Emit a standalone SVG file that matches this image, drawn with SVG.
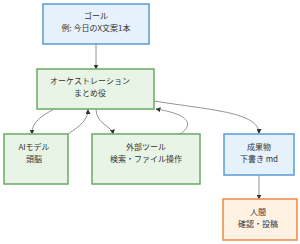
<svg xmlns="http://www.w3.org/2000/svg" width="300" height="244" viewBox="0 0 300 244">
<style>
.blue{fill:#e5f1fb;stroke:#5b9bd5;stroke-width:1.5}
.green{fill:#e8f5e6;stroke:#6aaa64;stroke-width:1.5}
.orange{fill:#fff2e3;stroke:#f0884a;stroke-width:1.5}
text{font-family:"Noto Sans CJK JP","Noto Sans",sans-serif;font-size:8px;fill:#333;text-anchor:middle}
.edge{fill:none;stroke:#777;stroke-width:0.8;marker-end:url(#arr)}
</style>
<defs>
<marker id="arr" viewBox="0 0 10 10" refX="9" refY="5" markerWidth="5" markerHeight="5" markerUnits="userSpaceOnUse" orient="auto">
<path d="M0,0 L10,5 L0,10 z" fill="#333"/>
</marker>
</defs>
<g id="connectors">
<path class="edge" d="M96,44 L96,69"/>
<path class="edge" d="M54,109 C40,117 32,122 32,134"/>
<path class="edge" d="M68,134 C80,126 88,120 88,109.5"/>
<path class="edge" d="M96,109 C96,124 112,126 113,134"/>
<path class="edge" d="M180,134 C195,124 188,114 156,109"/>
<path class="edge" d="M154,101 C210,110 259,112 259,133.5"/>
<path class="edge" d="M259,175 L259,199"/>
</g>
<g id="goal">
<rect class="blue" x="43" y="4" width="106" height="40"/>
<text x="96" y="19">ゴール</text>
<text x="96" y="31">例: 今日のX文案1本</text>
</g>
<g id="orchestration">
<rect class="green" x="37" y="69" width="117" height="40"/>
<text x="90" y="84">オーケストレーション</text>
<text x="90" y="96">まとめ役</text>
</g>
<g id="ai">
<rect class="green" x="4" y="134" width="64" height="50"/>
<text x="34" y="149.5">AIモデル</text>
<text x="34" y="161.5">頭脳</text>
</g>
<g id="tools">
<rect class="green" x="92" y="134" width="108" height="50"/>
<text x="146" y="149.5">外部ツール</text>
<text x="146" y="161.5">検索・ファイル操作</text>
</g>
<g id="deliverable">
<rect class="blue" x="224" y="134" width="70" height="41"/>
<text x="259" y="150">成果物</text>
<text x="259" y="162">下書き md</text>
</g>
<g id="human">
<rect class="orange" x="223" y="199" width="74" height="41"/>
<text x="258" y="215">人間</text>
<text x="258" y="227">確認・投稿</text>
</g>
</svg>
